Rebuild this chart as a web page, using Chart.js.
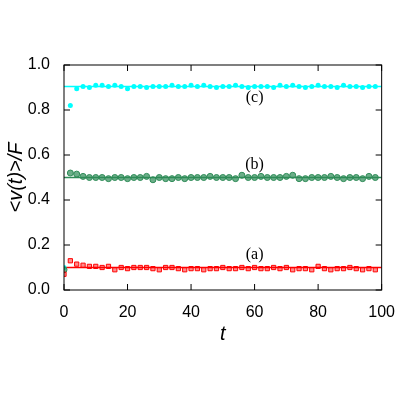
<!DOCTYPE html><html><head><script src="https://cdn.jsdelivr.net/npm/chart.js@4"></script>
<style>body{margin:0;background:#fff}#w{width:400px;height:400px}</style></head><body><div id="w"><canvas id="c"></canvas></div>
<script>
const tValues=[0,2,4,6,8,10,12,14,16,18,20,22,24,26,28,30,32,34,36,38,40,42,44,46,48,50,52,54,56,58,60,62,64,66,68,70,72,74,76,78,80,82,84,86,88,90,92,94,96,98];
const seriesA=[0.07,0.13,0.115,0.11,0.105,0.105,0.1,0.105,0.09,0.1,0.095,0.1,0.1,0.1,0.095,0.09,0.1,0.1,0.095,0.09,0.095,0.095,0.09,0.095,0.095,0.1,0.095,0.095,0.1,0.095,0.1,0.095,0.095,0.1,0.095,0.1,0.09,0.095,0.095,0.09,0.105,0.095,0.09,0.095,0.095,0.1,0.095,0.09,0.095,0.09];
const seriesB=[0.09,0.52,0.515,0.505,0.5,0.5,0.5,0.495,0.5,0.5,0.495,0.5,0.5,0.505,0.49,0.5,0.495,0.495,0.5,0.495,0.5,0.5,0.5,0.505,0.5,0.5,0.5,0.495,0.51,0.5,0.5,0.505,0.5,0.5,0.5,0.505,0.51,0.495,0.495,0.5,0.5,0.5,0.505,0.5,0.495,0.5,0.5,0.495,0.505,0.5];
const seriesC=[0.1,0.82,0.895,0.905,0.9,0.91,0.91,0.905,0.91,0.905,0.895,0.905,0.905,0.9,0.905,0.905,0.905,0.91,0.905,0.905,0.91,0.905,0.91,0.905,0.9,0.905,0.905,0.91,0.905,0.9,0.905,0.905,0.905,0.9,0.91,0.905,0.91,0.905,0.9,0.905,0.91,0.905,0.905,0.9,0.91,0.905,0.905,0.9,0.905,0.905];
const levels=[0.1,0.5,0.905];
const labels=['(a)','(b)','(c)'];
const labelPos=[[60,0.155],[60,0.555],[60,0.855]];
const xTicks=[0,20,40,60,80,100];
const yTicks=[0,0.2,0.4,0.6,0.8,1.0];
const colA='#ff0000',colB='#2e8b57',colC='#00ffff';
const pts=s=>tValues.map((t,i)=>({x:t,y:s[i]}));
const lineDs=(v,c)=>({type:'line',data:[{x:0,y:v},{x:100,y:v}],borderColor:c,borderWidth:1.5,pointRadius:0,order:2});
const inner={id:'inner',afterDraw(ch){const g=ch.ctx,a=ch.chartArea,x=ch.scales.x,y=ch.scales.y;g.save();g.strokeStyle='#000';g.lineWidth=1;
g.strokeRect(a.left,a.top,a.right-a.left,a.bottom-a.top);
xTicks.forEach(v=>{const p=x.getPixelForValue(v);g.beginPath();g.moveTo(p,a.bottom);g.lineTo(p,a.bottom-6);g.moveTo(p,a.top);g.lineTo(p,a.top+6);g.stroke();});
yTicks.forEach(v=>{const p=y.getPixelForValue(v);g.beginPath();g.moveTo(a.left,p);g.lineTo(a.left+6,p);g.moveTo(a.right,p);g.lineTo(a.right-6,p);g.stroke();});
g.fillStyle='#000';g.font='16px "Liberation Serif"';g.textAlign='center';g.textBaseline='middle';
labels.forEach((l,i)=>g.fillText(l,x.getPixelForValue(labelPos[i][0]),y.getPixelForValue(labelPos[i][1])));
g.restore();}};
new Chart(document.getElementById('c'),{type:'scatter',data:{datasets:[
{data:pts(seriesA),pointStyle:'rect',radius:3,borderColor:colA,backgroundColor:'rgba(255,0,0,0.45)',borderWidth:1,order:1},
{data:pts(seriesB),pointStyle:'circle',radius:3,borderColor:colB,backgroundColor:'rgba(46,139,87,0.7)',borderWidth:1,order:1},
{data:pts(seriesC),pointStyle:'circle',radius:2.5,borderColor:colC,backgroundColor:colC,borderWidth:0,order:1},
lineDs(levels[0],colA),lineDs(levels[1],colB),lineDs(levels[2],colC)]},
options:{responsive:true,maintainAspectRatio:false,animation:false,layout:{padding:{top:65,right:16,bottom:50}},
plugins:{legend:{display:false},tooltip:{enabled:false}},
scales:{x:{type:'linear',min:0,max:100,afterBuildTicks:s=>{s.ticks=xTicks.map(v=>({value:v}))},afterFit:s=>{s.height=60},
grid:{display:false},border:{display:false},ticks:{color:'#000',font:{family:'Liberation Sans',size:16},padding:5},
title:{display:true,text:'t',color:'#000',font:{family:'Liberation Sans',size:20,style:'italic'},padding:{top:4}}},
y:{min:0,max:1,afterBuildTicks:s=>{s.ticks=yTicks.map(v=>({value:v}))},afterFit:s=>{s.width=64},
grid:{display:false},border:{display:false},ticks:{color:'#000',font:{family:'Liberation Sans',size:16},padding:6,callback:v=>v.toFixed(1)},
title:{display:true,text:'<v(t)>/F',color:'#000',font:{family:'Liberation Sans',size:20,style:'italic'},padding:{bottom:2}}}}},
plugins:[inner]});
</script></body></html>
